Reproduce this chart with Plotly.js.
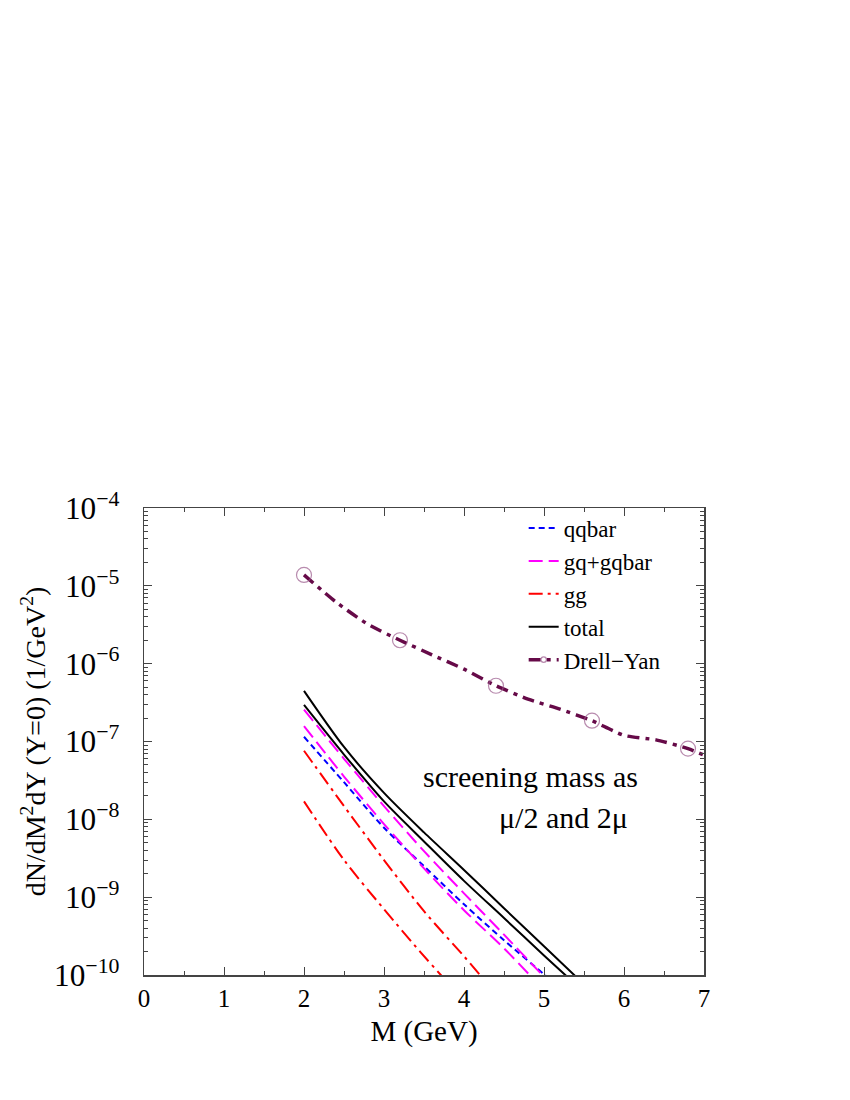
<!DOCTYPE html>
<html>
<head>
<meta charset="utf-8">
<script src="https://cdn.plot.ly/plotly-3.0.1.min.js"></script>
<style>
  html, body { margin: 0; padding: 0; background: #fff; }
  #chart { width: 850px; height: 1100px; }
</style>
</head>
<body>
<div id="chart"></div>
<script>
// qqbar (both screening masses lie on top of each other)
const qqM = [2.0, 2.5, 3.0, 3.5, 4.0, 4.5, 5.0, 5.2];
const qqY = [1.15e-7, 3.0e-8, 7.8e-9, 2.5e-9, 8.1e-10, 2.8e-10, 1.02e-10, 6.8e-11];

// gq+gqbar, mu/2 and 2mu
const gqM = [2.0, 2.5, 3.0, 3.5, 4.0, 4.5, 5.0, 5.2];
const gqHi = [2.57e-7, 6.0e-8, 1.48e-8, 3.9e-9, 1.12e-9, 3.3e-10, 9.5e-11, 5.9e-11];
const gqLoM = [2.0, 2.5, 3.0, 3.5, 4.0, 4.5, 4.82, 5.0];
const gqLo = [1.58e-7, 3.55e-8, 8.7e-9, 2.34e-9, 6.8e-10, 2.2e-10, 1.0e-10, 6.3e-11];

// gg
const ggHiM = [2.0, 2.5, 3.0, 3.5, 4.0, 4.2, 4.4];
const ggHi = [7.6e-8, 1.48e-8, 3.0e-9, 6.6e-10, 1.74e-10, 1.0e-10, 5.8e-11];
const ggLoM = [2.0, 2.5, 3.0, 3.45, 3.71, 3.9];
const ggLo = [1.7e-8, 3.0e-9, 7.0e-10, 2.0e-10, 1.0e-10, 6.0e-11];

// total
const totHiM = [2.0, 2.5, 3.0, 3.5, 4.0, 4.5, 5.0, 5.4];
const totHi = [4.47e-7, 8.5e-8, 2.19e-8, 6.8e-9, 2.24e-9, 7.2e-10, 2.34e-10, 9.5e-11];
const totLoM = [2.0, 2.5, 3.0, 3.5, 4.0, 4.5, 5.0, 5.3];
const totLo = [2.95e-7, 6.8e-8, 1.7e-8, 5.2e-9, 1.62e-9, 5.4e-10, 1.78e-10, 9.3e-11];

// Drell-Yan
const dyM = [2.0, 2.4, 2.8, 3.2, 3.6, 4.0, 4.4, 4.8, 5.2, 5.6, 6.0, 6.4, 6.8, 7.0];
const dyY = [1.38e-5, 6.2e-6, 3.2e-6, 2.0e-6, 1.3e-6, 8.5e-7, 5.2e-7, 3.5e-7, 2.6e-7, 1.85e-7, 1.2e-7, 1.05e-7, 8.1e-8, 6.7e-8];
// open circles every third point
const dyMarkSize = dyM.map((m, i) => (i % 3 === 0 && i < dyM.length - 1) ? 15 : 0);

const FONT = "'Liberation Serif', 'Times New Roman', serif";

function curve(x, y, name, color, dash, show, group) {
    return {
        x: x, y: y, name: name, type: 'scatter', mode: 'lines',
        line: {color: color, width: 2, dash: dash, shape: 'spline', smoothing: 0.8},
        showlegend: show, legendgroup: group
    };
}

const data = [
    curve(qqM, qqY, 'qqbar', '#0000ff', '6px,4px', true, 'qq'),
    curve(gqM, gqHi, 'gq+gqbar', '#ff00ff', '14px,6px', true, 'gq'),
    curve(gqLoM, gqLo, 'gq+gqbar', '#ff00ff', '14px,6px', false, 'gq'),
    curve(ggHiM, ggHi, 'gg', '#ff0000', '14px,5px,3px,5px', true, 'gg'),
    curve(ggLoM, ggLo, 'gg', '#ff0000', '14px,5px,3px,5px', false, 'gg'),
    curve(totHiM, totHi, 'total', '#000000', 'solid', true, 'tot'),
    curve(totLoM, totLo, 'total', '#000000', 'solid', false, 'tot'),
    {
        x: dyM, y: dyY, name: 'Drell\u2212Yan', type: 'scatter', mode: 'lines+markers',
        line: {color: '#660a48', width: 3.5, dash: '12px,6px,4px,6px', shape: 'spline', smoothing: 0.6},
        marker: {symbol: 'circle-open', size: dyMarkSize, color: '#9a5a8c', line: {width: 1.2, color: '#9a5a8c'}},
        cliponaxis: false
    }
];

const layout = {
    width: 850, height: 1100,
    margin: {l: 144, r: 146, t: 508, b: 125},
    paper_bgcolor: '#fff', plot_bgcolor: '#fff',
    font: {family: FONT, size: 24, color: '#000'},
    showlegend: true,
    legend: {
        x: 0.678, y: 1.003, xanchor: 'left', yanchor: 'top',
        bgcolor: 'rgba(0,0,0,0)', borderwidth: 0,
        font: {family: FONT, size: 23}, tracegroupgap: 0
    },
    xaxis: {
        range: [0, 7], dtick: 1, tick0: 0,
        ticks: 'inside', ticklen: 8, tickcolor: '#444',
        minor: {dtick: 0.5, ticks: 'inside', ticklen: 4, tickcolor: '#444'},
        showline: true, linecolor: '#444', linewidth: 1.5, mirror: 'allticks',
        showgrid: false, zeroline: false,
        tickfont: {family: FONT, size: 25},
        title: {text: 'M (GeV)', font: {family: FONT, size: 29}, standoff: 10}
    },
    yaxis: {
        type: 'log', range: [-10, -4], dtick: 1,
        exponentformat: 'power',
        ticks: 'inside', ticklen: 8, tickcolor: '#444',
        minor: {dtick: 'D1', ticks: 'inside', ticklen: 4, tickcolor: '#444'},
        showline: true, linecolor: '#444', linewidth: 1.5, mirror: 'allticks',
        showgrid: false, zeroline: false,
        tickfont: {family: FONT, size: 25},
        ticklabelstandoff: 18,
        title: {text: 'dN/dM<sup>2</sup>dY (Y=0) (1/GeV<sup>2</sup>)', font: {family: FONT, size: 28}, standoff: 0}
    },
    annotations: [
        {xref: 'paper', yref: 'paper', x: 0.495, y: 0.424, xanchor: 'left', yanchor: 'middle',
         text: 'screening mass as', showarrow: false, font: {family: FONT, size: 30}},
        {xref: 'paper', yref: 'paper', x: 0.630, y: 0.337, xanchor: 'left', yanchor: 'middle',
         text: '\u03bc/2 and 2\u03bc', showarrow: false, font: {family: FONT, size: 30}}
    ]
};

Plotly.newPlot('chart', data, layout, {displayModeBar: false, staticPlot: true});
</script>
</body>
</html>
